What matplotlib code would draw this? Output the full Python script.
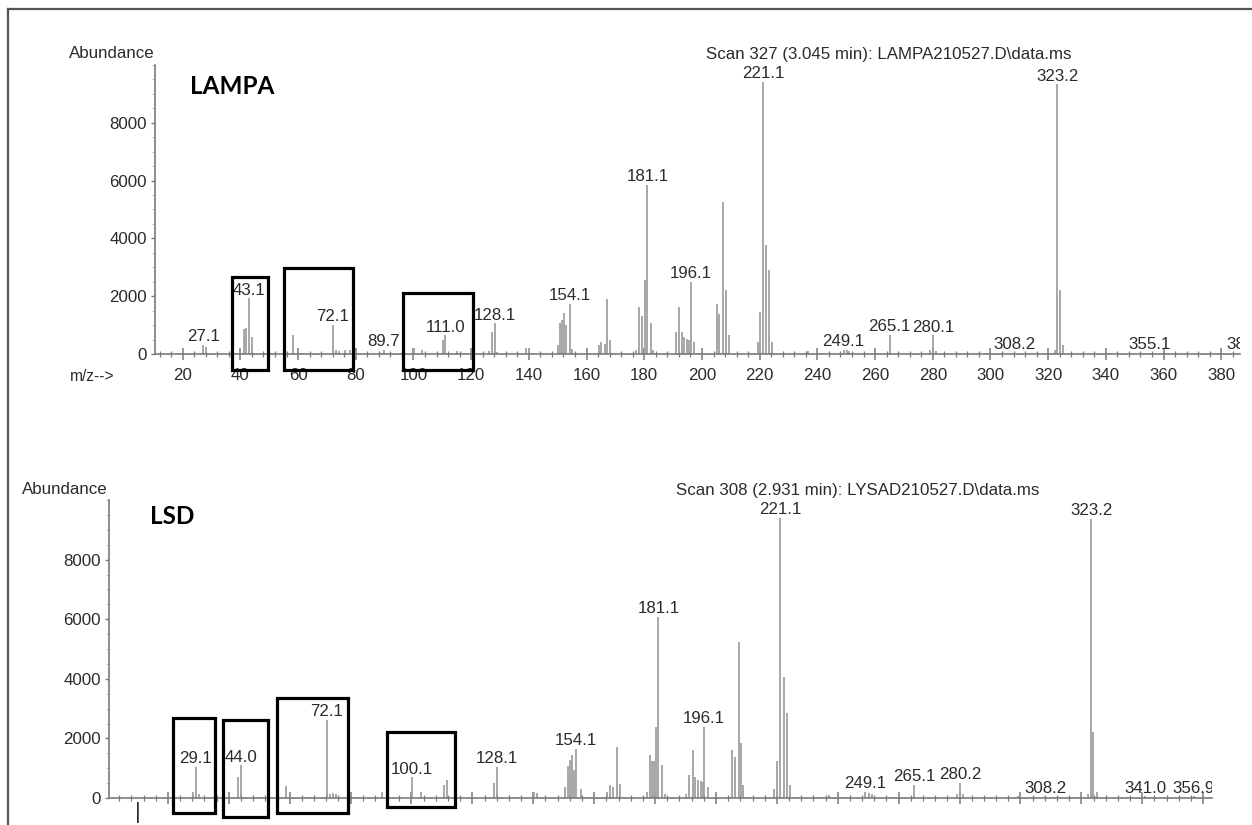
import matplotlib
matplotlib.use('Agg')
import matplotlib.pyplot as plt
from matplotlib.patches import Rectangle
from matplotlib.lines import Line2D
from matplotlib.ticker import MultipleLocator

W, H = 1252, 825

# ---- LAMPA, scan 327 ----
lampa_mz = [27.1, 28.1, 41.1, 42.1, 43.1, 44.1, 58.1, 72.1, 73.1, 74.1, 76.1, 78.1,
            89.7, 100.1, 103.1, 110.1, 111.0, 115.1, 126.1, 127.1, 128.1, 129.1,
            139.1, 140.1, 150.0, 150.8, 151.5, 152.1, 152.9, 154.1, 155.1,
            164.3, 165.0, 166.3, 167.1, 168.2, 177.1, 178.3, 179.3, 180.1, 181.1, 182.2, 183.1,
            191.1, 192.1, 193.1, 193.9, 194.7, 195.4, 196.1, 197.2,
            205.1, 206.0, 207.2, 208.3, 209.5, 219.3, 220.2, 221.1, 222.2, 223.2, 224.4,
            236.8, 249.1, 250.1, 251.1, 265.1, 279.1, 280.1, 281.1, 308.2,
            322.2, 323.2, 324.2, 325.3, 355.1, 389.2]
lampa_ab = [320, 250, 880, 910, 1925, 600, 650, 1000, 150, 120, 130, 150,
            150, 200, 150, 480, 650, 120, 100, 770, 1060, 80,
            220, 200, 300, 1060, 1175, 1430, 1000, 1730, 160,
            300, 420, 360, 1900, 480, 150, 1610, 1330, 2570, 5850, 1080, 150,
            770, 1640, 750, 600, 520, 500, 2500, 400,
            1730, 1370, 5270, 2220, 660, 400, 1440, 9420, 3770, 2900, 410,
            100, 150, 130, 100, 660, 150, 650, 120, 40,
            150, 9330, 2210, 300, 40, 40]
lampa_labels = ['27.1', '43.1', '72.1', '89.7', '111.0', '128.1', '154.1', '181.1',
                '196.1', '221.1', '249.1', '265.1', '280.1', '308.2', '323.2',
                '355.1', '389.2']
lampa_boxes = [(37.1, 49.6, -553, 2663), (55.1, 79.0, -553, 2975),
               (96.4, 120.6, -553, 2110)]

# ---- LSD, scan 308 ----
lsd_mz = [28.3, 29.1, 30.1, 42.9, 44.0, 58.8, 72.1, 73.1, 74.1, 75.1, 90.2,
          100.1, 103.1, 110.8, 111.5, 114.5, 127.2, 128.1, 140.1, 141.1,
          150.4, 151.3, 151.9, 152.6, 153.4, 154.1, 155.6,
          164.3, 165.2, 166.1, 167.6, 168.5, 177.2, 178.3, 179.1, 179.6, 180.3, 181.1, 182.2, 183.2,
          190.3, 191.2, 192.3, 193.2, 194.1, 195.0, 195.8, 196.1, 197.5,
          205.4, 206.2, 207.6, 208.1, 209.0, 219.0, 220.1, 221.1, 222.2, 223.2, 224.3,
          237.1, 249.1, 250.1, 251.1, 265.1, 279.1, 280.2, 281.1, 299.1, 308.2,
          322.2, 323.2, 323.9, 325.1, 341.0, 356.9]
lsd_ab = [200, 1050, 120, 720, 1100, 400, 2620, 150, 160, 130, 200,
          690, 200, 420, 610, 120, 500, 1050, 200, 180,
          380, 1090, 1260, 1430, 950, 1655, 300,
          200, 420, 360, 1700, 480, 200, 1450, 1230, 1230, 2370, 6080, 1120, 120,
          120, 760, 1600, 700, 590, 560, 540, 2390, 380,
          1600, 1380, 5250, 1830, 420, 310, 1250, 9400, 4070, 2840, 430,
          100, 200, 180, 120, 440, 120, 500, 120, 80, 60,
          120, 9380, 2225, 200, 60, 60]
lsd_labels = ['29.1', '44.0', '72.1', '100.1', '128.1', '154.1', '181.1', '196.1',
              '221.1', '249.1', '265.1', '280.2', '308.2', '323.2', '341.0', '356.9']
lsd_boxes = [(21.7, 35.5, -493, 2685), (38.1, 52.9, -650, 2618),
             (55.8, 79.1, -515, 3357), (92.0, 114.3, -292, 2215)]

FONT = 'Liberation Sans'
TXT = '#2b2b2b'
PEAK = '#a0a0a0'
AX = '#7a7a7a'
FS = 12.2


def fx(px):
    return px / W


def fy(py):
    return 1 - py / H


def draw_panel(ax, mz, ab, labels, boxes, xlim, show_xlabels):
    ax.vlines(mz, 0, ab, colors=PEAK, linewidth=1.3)
    for lab in labels:
        m = float(lab)
        h = max([a for x, a in zip(mz, ab) if abs(x - m) < 0.6] + [0])
        ax.annotate(lab, (m, h), xytext=(0, 0.5), textcoords='offset points',
                    ha='center', va='bottom', fontsize=FS, family=FONT, color=TXT,
                    clip_on=(m + 8 > xlim[1]), annotation_clip=False)
    for lo, hi, b, t in boxes:
        ax.add_patch(Rectangle((lo, b), hi - lo, t - b, fill=False, edgecolor='black',
                               linewidth=2.3, clip_on=False, zorder=5))
    ax.set_xlim(*xlim)
    ax.set_ylim(0, 10000)
    for s in ['top', 'right']:
        ax.spines[s].set_visible(False)
    for s in ['left', 'bottom']:
        ax.spines[s].set_color(AX)
        ax.spines[s].set_linewidth(1.2)
    ax.xaxis.set_major_locator(MultipleLocator(20))
    ax.xaxis.set_minor_locator(MultipleLocator(4))
    ax.set_yticks([0, 2000, 4000, 6000, 8000])
    ax.yaxis.set_minor_locator(MultipleLocator(500))
    ax.tick_params(axis='x', which='major', direction='inout', length=8, width=1.1,
                   color=AX, labelsize=FS, labelcolor=TXT, pad=6,
                   labelbottom=show_xlabels)
    ax.tick_params(axis='x', which='minor', direction='inout', length=4, width=0.9, color=AX)
    ax.tick_params(axis='y', which='major', direction='out', length=3, width=1, color=AX,
                   labelsize=FS, labelcolor=TXT, pad=3)
    ax.tick_params(axis='y', which='minor', direction='out', length=2, width=0.7, color='#bbbbbb')
    for t in ax.get_xticklabels() + ax.get_yticklabels():
        t.set_family(FONT)
    ax.patch.set_alpha(0)


fig = plt.figure(figsize=(W / 100, H / 100), dpi=100)

# top panel: x from px 155 to 1240, zero line at px 354
top_xlim = (10.4, 386.5)
ax1 = fig.add_axes([fx(155), fy(354), (1240 - 155) / W, 289.1 / H])
draw_panel(ax1, lampa_mz, lampa_ab, lampa_labels, lampa_boxes, top_xlim, True)

# bottom panel: x from px 109 to 1212, zero line at px 798
bot_xlim = (0.66, 362.9)
ax2 = fig.add_axes([fx(109), fy(798), (1212 - 109) / W, 297.9 / H])
draw_panel(ax2, lsd_mz, lsd_ab, lsd_labels, lsd_boxes, bot_xlim, False)
ax2.text(10, -150, '|', ha='center', va='top', fontsize=16, family=FONT, color=TXT,
         clip_on=False)

# texts around the panels
fig.text(fx(112), fy(53), 'Abundance', ha='center', va='center', fontsize=FS,
         family=FONT, color=TXT)
fig.text(fx(65), fy(489), 'Abundance', ha='center', va='center', fontsize=FS,
         family=FONT, color=TXT)
fig.text(fx(70), fy(376), 'm/z-->', ha='left', va='center', fontsize=FS - 1,
         family=FONT, color=TXT)
fig.text(fx(889), fy(54), 'Scan 327 (3.045 min): LAMPA210527.D\\data.ms', ha='center',
         va='center', fontsize=FS, family=FONT, color=TXT)
fig.text(fx(858), fy(490), 'Scan 308 (2.931 min): LYSAD210527.D\\data.ms', ha='center',
         va='center', fontsize=FS, family=FONT, color=TXT)
fig.text(fx(232), fy(86), 'LAMPA', ha='center', va='center', fontsize=17.5,
         family='Lato', fontweight='bold', color='black')
fig.text(fx(172), fy(517), 'LSD', ha='center', va='center', fontsize=17.5,
         family='Lato', fontweight='bold', color='black')

# scanned frame edges
fig.add_artist(Line2D([fx(8), 1], [fy(9), fy(9)], color='#555555', linewidth=1.6))
fig.add_artist(Line2D([fx(8), fx(8)], [fy(9), 0], color='#555555', linewidth=1.6))

fig.savefig('out.png', dpi=100, facecolor='white')
